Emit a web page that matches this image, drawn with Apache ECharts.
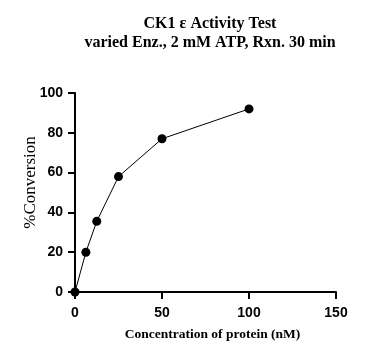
<!DOCTYPE html>
<html><head><meta charset="utf-8">
<script src="https://cdn.jsdelivr.net/npm/echarts@6/dist/echarts.min.js"></script>
<style>html,body{margin:0;padding:0;background:#fff}#c{width:382px;height:358px}</style>
</head><body><div id="c"></div>
<script>
const titleLines = ["CK1 \u03b5 Activity Test", "varied Enz., 2 mM ATP, Rxn. 30 min"];
const xName = "Concentration of protein (nM)";
const yName = "%Conversion";
const concentration = [0, 6.25, 12.5, 25, 50, 100];
const conversion = [0, 20, 35.5, 58, 77, 92];

const chart = echarts.init(document.getElementById('c'), null, {renderer: 'canvas'});
const axisFont = {fontFamily: 'Liberation Sans, Arial, sans-serif', fontWeight: 'bold', fontSize: 14, color: '#000'};
chart.setOption({
  animation: false,
  backgroundColor: '#fff',
  title: {
    text: titleLines.join('\n'),
    left: 205, top: 9, textAlign: 'center',
    textStyle: {fontFamily: 'Liberation Serif, Times New Roman, serif', fontWeight: 'bold', fontSize: 16, lineHeight: 19, color: '#000'}
  },
  grid: {left: 75, right: 46, top: 93, bottom: 66, containLabel: false},
  xAxis: {
    type: 'value', min: 0, max: 150, interval: 50,
    name: xName, nameLocation: 'middle', nameGap: 36,
    nameTextStyle: {fontFamily: 'Liberation Serif, Times New Roman, serif', fontWeight: 'bold', fontSize: 13.5, color: '#000', padding: [0, 0, 0, 14]},
    axisLine: {show: true, onZero: false, lineStyle: {color: '#000', width: 2}},
    axisTick: {show: true, length: 7, lineStyle: {color: '#000', width: 2}},
    axisLabel: Object.assign({margin: 14}, axisFont),
    splitLine: {show: false}
  },
  yAxis: {
    type: 'value', min: 0, max: 100, interval: 20,
    name: yName, nameLocation: 'middle', nameGap: 36, nameMoveOverlap: false,
    nameTextStyle: {fontFamily: 'Liberation Serif, Times New Roman, serif', fontSize: 17, color: '#000', padding: [0, 0, 0, 20]},
    axisLine: {show: true, onZero: false, lineStyle: {color: '#000', width: 2}},
    axisTick: {show: true, length: 7, lineStyle: {color: '#000', width: 2}},
    axisLabel: Object.assign({margin: 12}, axisFont),
    splitLine: {show: false}
  },
  series: [{
    type: 'line',
    data: concentration.map((x, i) => [x, conversion[i]]),
    symbol: 'circle', symbolSize: 9,
    itemStyle: {color: '#000'},
    lineStyle: {color: '#000', width: 1},
    clip: false
  }]
});
</script></body></html>
